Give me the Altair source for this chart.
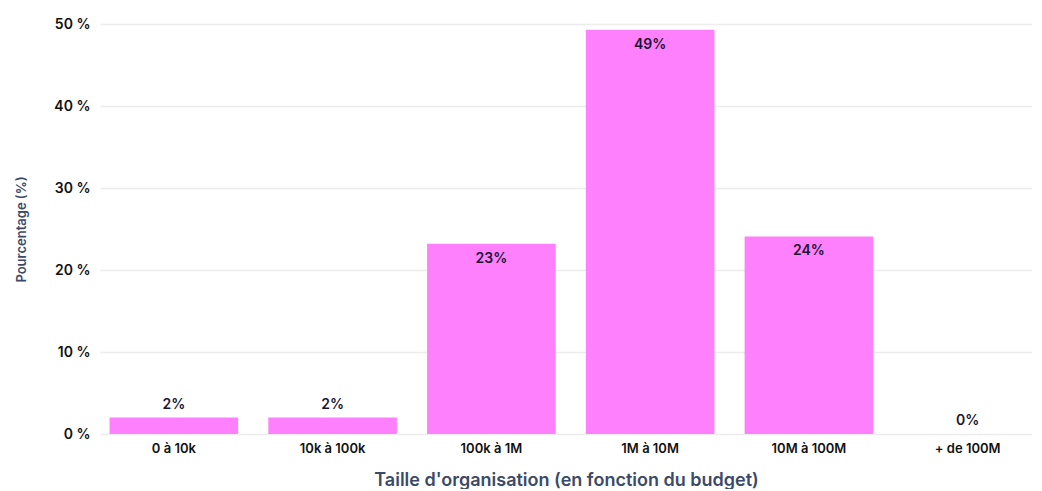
import altair as alt
import pandas as pd

categories = ["0 à 10k", "10k à 100k", "100k à 1M", "1M à 10M", "10M à 100M", "+ de 100M"]
values = [2.0, 2.0, 23.2, 49.3, 24.1, 0.0]
labels = ["2%", "2%", "23%", "49%", "24%", "0%"]

df = pd.DataFrame({"cat": categories, "value": values, "label": labels})

FONT = "Inter"
x_enc = alt.X("cat:N", sort=categories,
              scale=alt.Scale(paddingInner=0.19, paddingOuter=0.03, align=1),
              axis=alt.Axis(title="Taille d'organisation (en fonction du budget)",
                            labelAngle=0, labelFontSize=13, labelFontWeight=600,
                            labelColor="#111111", labelPadding=8, ticks=False, domain=False,
                            titleFontSize=18, titleFontWeight=600, titleColor="#3b4a68",
                            titlePadding=16, labelFont=FONT, titleFont=FONT))

base = alt.Chart(df)

bars = base.mark_bar(color="#ff80fc").encode(
    x=x_enc,
    y=alt.Y("value:Q", scale=alt.Scale(domain=[0, 50]),
            axis=alt.Axis(title="Pourcentage (%)", values=[0, 10, 20, 30, 40, 50],
                          labelExpr="datum.value + ' %'", labelFontSize=14, labelFontWeight=600,
                          labelColor="#111111", labelPadding=10, ticks=False, domain=False,
                          gridColor="#ececec", gridWidth=1.5,
                          titleFontSize=13, titleFontWeight=600, titleColor="#3b4a68",
                          titlePadding=25, labelFont=FONT, titleFont=FONT)),
)

inside = base.transform_filter("datum.value > 10").mark_text(
    baseline="top", dy=8, fontSize=14, fontWeight=600, color="#1a1530", font=FONT
).encode(x=alt.X("cat:N", sort=categories), y="value:Q", text="label:N")

above = base.transform_filter("datum.value <= 10").mark_text(
    baseline="bottom", dy=-6, fontSize=14, fontWeight=600, color="#1a1530", font=FONT
).encode(x=alt.X("cat:N", sort=categories), y="value:Q", text="label:N")

chart = alt.layer(bars, inside, above).properties(
    width=932, height=410, background="white",
    padding={"left": 7, "top": 9, "right": 0, "bottom": 0}
).configure_view(stroke=None)

chart.save("out.html", embed_options={"renderer": "svg", "actions": False})
